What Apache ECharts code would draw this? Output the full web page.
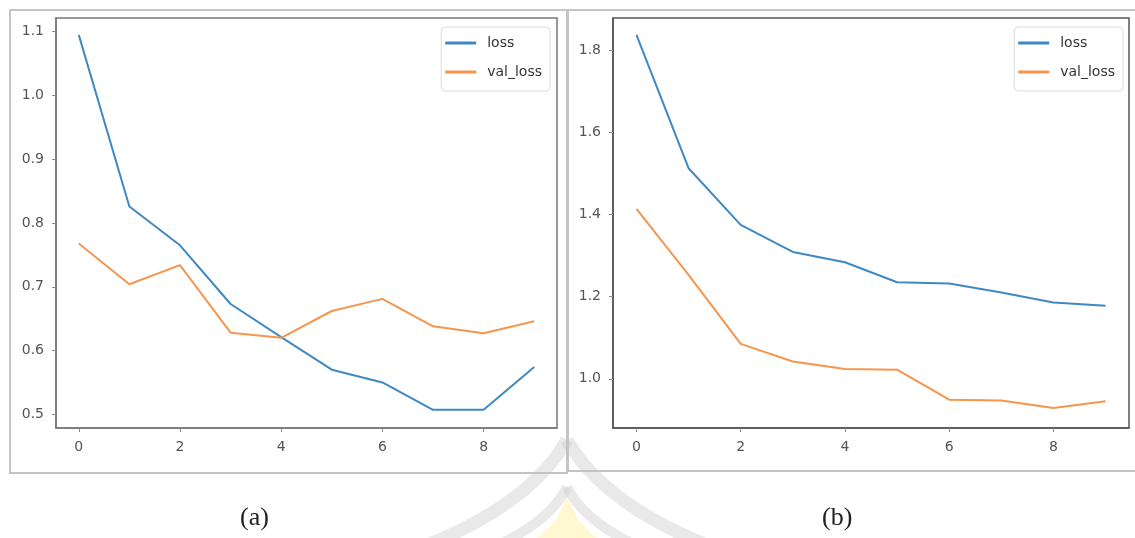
<!DOCTYPE html>
<html>
<head>
<meta charset="utf-8">
<script src="https://cdn.jsdelivr.net/npm/echarts@6/dist/echarts.min.js"></script>
<style>
  html, body { margin: 0; padding: 0; background: #fff; }
  #chart { width: 1135px; height: 538px; }
</style>
</head>
<body>
<div id="chart"></div>
<script>
// epochs on the x axis
var epochs = [0, 1, 2, 3, 4, 5, 6, 7, 8, 9];

// panel (a)
var lossA = [1.095, 0.826, 0.765, 0.673, 0.621, 0.570, 0.550, 0.507, 0.507, 0.574];
var valLossA = [0.768, 0.704, 0.734, 0.628, 0.620, 0.662, 0.681, 0.638, 0.627, 0.646];

// panel (b)
var lossB = [1.838, 1.513, 1.375, 1.309, 1.284, 1.235, 1.232, 1.210, 1.186, 1.178];
var valLossB = [1.414, 1.253, 1.085, 1.042, 1.024, 1.022, 0.949, 0.947, 0.929, 0.945];

// tick labels
var xTicks = [0, 2, 4, 6, 8];
var yTicksA = [0.5, 0.6, 0.7, 0.8, 0.9, 1.0, 1.1];
var yTicksB = [1.0, 1.2, 1.4, 1.6, 1.8];

var BLUE = '#3f89c2';
var ORANGE = '#f5964e';
var TICK_FONT = { color: '#555', fontSize: 14, fontFamily: 'DejaVu Sans' };

function pairs(values) {
  return epochs.map(function (e, i) { return [e, values[i]]; });
}

function makeXAxis(gridIndex, spineColor) {
  return {
    type: 'value',
    gridIndex: gridIndex,
    min: -0.45,
    max: 9.45,
    splitLine: { show: false },
    axisLine: { show: true, onZero: false, lineStyle: { color: spineColor, width: 1.5 } },
    axisTick: { show: true, length: 4, customValues: xTicks, lineStyle: { color: '#888' } },
    axisLabel: Object.assign({ margin: 12, customValues: xTicks }, TICK_FONT)
  };
}

function makeYAxis(gridIndex, min, max, ticks, spineColor) {
  return {
    type: 'value',
    gridIndex: gridIndex,
    min: min,
    max: max,
    splitLine: { show: false },
    axisLine: { show: true, onZero: false, lineStyle: { color: spineColor, width: 1.5 } },
    axisTick: { show: true, length: 4, customValues: ticks, lineStyle: { color: '#888' } },
    axisLabel: Object.assign({
      margin: 12,
      customValues: ticks,
      formatter: function (v) { return v.toFixed(1); }
    }, TICK_FONT)
  };
}

function makeLegend(right) {
  return {
    orient: 'vertical',
    right: right,
    top: 27,
    data: [{ name: 'loss', icon: 'rect' }, { name: 'val_loss', icon: 'rect' }],
    itemWidth: 31,
    itemHeight: 3,
    itemGap: 13,
    padding: [8, 8, 11, 4],
    backgroundColor: '#fff',
    borderColor: '#dcdcdc',
    borderWidth: 1,
    borderRadius: 4,
    selectedMode: false,
    textStyle: { color: '#333', fontSize: 14, fontFamily: 'DejaVu Sans', lineHeight: 16, padding: [0, 0, 0, 6] }
  };
}

function line(name, values, color, idx) {
  return {
    name: name,
    type: 'line',
    xAxisIndex: idx,
    yAxisIndex: idx,
    data: pairs(values),
    showSymbol: false,
    symbol: 'none',
    color: color,
    lineStyle: { color: color, width: 2 }
  };
}

// watermark arm: a quadratic curve from bottom up to the apex
function arm(x1, y1, cx, cy, x2, y2, width) {
  return {
    type: 'bezierCurve', z: -20, silent: true,
    shape: { x1: x1, y1: y1, cpx1: cx, cpy1: cy, x2: x2, y2: y2 },
    style: { fill: null, stroke: 'rgba(200,200,200,0.4)', lineWidth: width }
  };
}

var chart = echarts.init(document.getElementById('chart'), null, { renderer: 'canvas' });

var option = {
  animation: false,
  backgroundColor: '#fff',
  grid: [
    { left: 56, top: 18, width: 501, height: 410, show: true, borderColor: '#777', borderWidth: 1.5, backgroundColor: '#fff' },
    { left: 613, top: 18, width: 516, height: 410, show: true, borderColor: '#555', borderWidth: 1.5, backgroundColor: '#fff' }
  ],
  xAxis: [makeXAxis(0, '#777'), makeXAxis(1, '#555')],
  yAxis: [
    makeYAxis(0, 0.4785, 1.1215, yTicksA, '#777'),
    makeYAxis(1, 0.880, 1.879, yTicksB, '#555')
  ],
  legend: [makeLegend(585), makeLegend(12)],
  series: [
    line('loss', lossA, BLUE, 0),
    line('val_loss', valLossA, ORANGE, 0),
    line('loss', lossB, BLUE, 1),
    line('val_loss', valLossB, ORANGE, 1)
  ],
  graphic: [
    // outer frames around each panel
    { type: 'rect', z: -10, silent: true, shape: { x: 10, y: 10, width: 557, height: 463 },
      style: { fill: null, stroke: '#c4c4c4', lineWidth: 2 } },
    { type: 'rect', z: -10, silent: true, shape: { x: 568, y: 10, width: 575, height: 461 },
      style: { fill: null, stroke: '#c4c4c4', lineWidth: 2 } },
    // faint watermark at the bottom centre
    arm(420, 548, 530, 505, 567, 440, 13),
    arm(714, 548, 604, 505, 567, 440, 13),
    arm(492, 548, 550, 522, 567, 487, 10),
    arm(642, 548, 584, 522, 567, 487, 10),
    { type: 'polygon', z: -21, silent: true,
      shape: { points: [[515, 548], [540, 536], [556, 520], [563, 505], [567, 498], [571, 505], [578, 520], [594, 536], [619, 548]] },
      style: { fill: 'rgba(255,238,140,0.4)' } },
    // captions
    { type: 'text', left: 258 - 18, top: 505,
      style: { text: '(a)', fill: '#222', font: '26px "Liberation Serif", "DejaVu Serif", serif' } },
    { type: 'text', left: 840 - 18, top: 505,
      style: { text: '(b)', fill: '#222', font: '26px "Liberation Serif", "DejaVu Serif", serif' } }
  ]
};

chart.setOption(option);
</script>
</body>
</html>
